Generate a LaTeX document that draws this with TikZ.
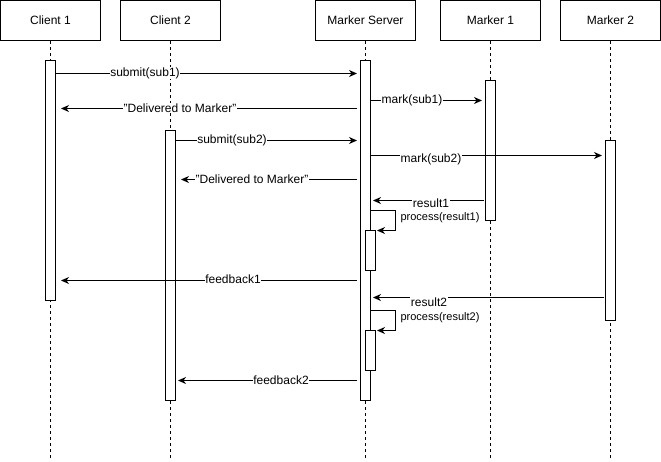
\documentclass[tikz,border=0pt]{standalone}
\usepackage{fontspec}
\setmainfont{Liberation Sans}
\usetikzlibrary{arrows.meta}
\begin{document}
\begin{tikzpicture}[x=1pt,y=-1pt,
  head/.style={draw, fill=white, minimum width=100pt, minimum height=40pt, inner sep=0pt, line width=1pt, font=\fontsize{12}{14}\selectfont},
  life/.style={line width=1pt, dash pattern=on 3pt off 3pt},
  act/.style={draw, fill=white, minimum width=10pt, inner sep=0pt, line width=1pt},
  msg/.style={-{Stealth[length=8pt,width=7pt,inset=2.5pt]}, line width=1pt},
  lbl/.style={fill=white, inner sep=0.6pt, font=\fontsize{12}{14}\selectfont},
  plbl/.style={inner sep=0pt, font=\fontsize{11}{13}\selectfont}]
\useasboundingbox (0,0) rectangle (661,461);
% headers
\node[head] (c1) at (50.5,20.5) {Client 1};
\node[head] (c2) at (170.5,20.5) {Client 2};
\node[head] (ms) at (365.5,20.5) {Marker Server};
\node[head] (m1) at (490.5,20.5) {Marker 1};
\node[head] (m2) at (610.5,20.5) {Marker 2};
% lifeline ends
\coordinate (c1e) at (50.5,460);
\coordinate (c2e) at (170.5,460);
\coordinate (mse) at (365.5,460);
\coordinate (m1e) at (490.5,460);
\coordinate (m2e) at (610.5,460);
\draw[life] (c1.south) -- (c1e);
\draw[life] (c2.south) -- (c2e);
\draw[life] (ms.south) -- (mse);
\draw[life] (m1.south) -- (m1e);
\draw[life] (m2.south) -- (m2e);
% activations
\node[act, minimum height=240pt] (a1) at (50.5,180.5) {};
\node[act, minimum height=270pt] (a2) at (170.5,265.5) {};
\node[act, minimum height=340pt] (as) at (365.5,230.5) {};
\node[act, minimum height=140pt] (am1) at (490.5,150.5) {};
\node[act, minimum height=180pt] (am2) at (610.5,230.5) {};
\node[act, minimum height=40pt] (p1) at (370.5,250.5) {};
\node[act, minimum height=40pt] (p2) at (370.5,350.5) {};
% message end points
\coordinate (s1a) at (56,73.5);  \coordinate (s1b) at (357,73.5);
\coordinate (d1a) at (357,108.5); \coordinate (d1b) at (61,108.5);
\coordinate (k1a) at (371,100.5); \coordinate (k1b) at (482,100.5);
\coordinate (s2a) at (176,140.5); \coordinate (s2b) at (357,140.5);
\coordinate (k2a) at (371,155.5); \coordinate (k2b) at (602,155.5);
\coordinate (d2a) at (357,179.5); \coordinate (d2b) at (181,179.5);
\coordinate (r1a) at (484,200.5); \coordinate (r1b) at (373,200.5);
\coordinate (l1a) at (370.5,210.5); \coordinate (l1b) at (377,230.5);
\coordinate (f1a) at (357,280.5); \coordinate (f1b) at (61,280.5);
\coordinate (r2a) at (604,297.5); \coordinate (r2b) at (373,297.5);
\coordinate (l2a) at (370.5,310.5); \coordinate (l2b) at (377,330.5);
\coordinate (f2a) at (357,380.5); \coordinate (f2b) at (178,380.5);
% messages
\draw[msg] (s1a) -- (s1b);
\node[lbl] (t1) at (145,73) {submit(sub1)};
\draw[msg] (d1a) -- (d1b);
\node[lbl] (t2) at (180,108) {"Delivered to Marker"};
\draw[msg] (k1a) -- (k1b);
\node[lbl] (t3) at (412,100) {mark(sub1)};
\draw[msg] (s2a) -- (s2b);
\node[lbl] (t4) at (232,140) {submit(sub2)};
\draw[msg] (k2a) -- (k2b);
\node[lbl] (t5) at (431,159.5) {mark(sub2)};
\draw[msg] (d2a) -- (d2b);
\node[lbl] (t6) at (252,179) {"Delivered to Marker"};
\draw[msg] (r1a) -- (r1b);
\node[lbl] (t7) at (431,203.5) {result1};
\draw[msg] (l1a) -- ++(25,0) |- (l1b);
\node[plbl] (t8) at (440,218) {process(result1)};
\draw[msg] (f1a) -- (f1b);
\node[lbl] (t9) at (233,279) {feedback1};
\draw[msg] (r2a) -- (r2b);
\node[lbl] (t10) at (429,302.5) {result2};
\draw[msg] (l2a) -- ++(25,0) |- (l2b);
\node[plbl] (t11) at (440,318) {process(result2)};
\draw[msg] (f2a) -- (f2b);
\node[lbl] (t12) at (281,380) {feedback2};
\end{tikzpicture}
\end{document}
